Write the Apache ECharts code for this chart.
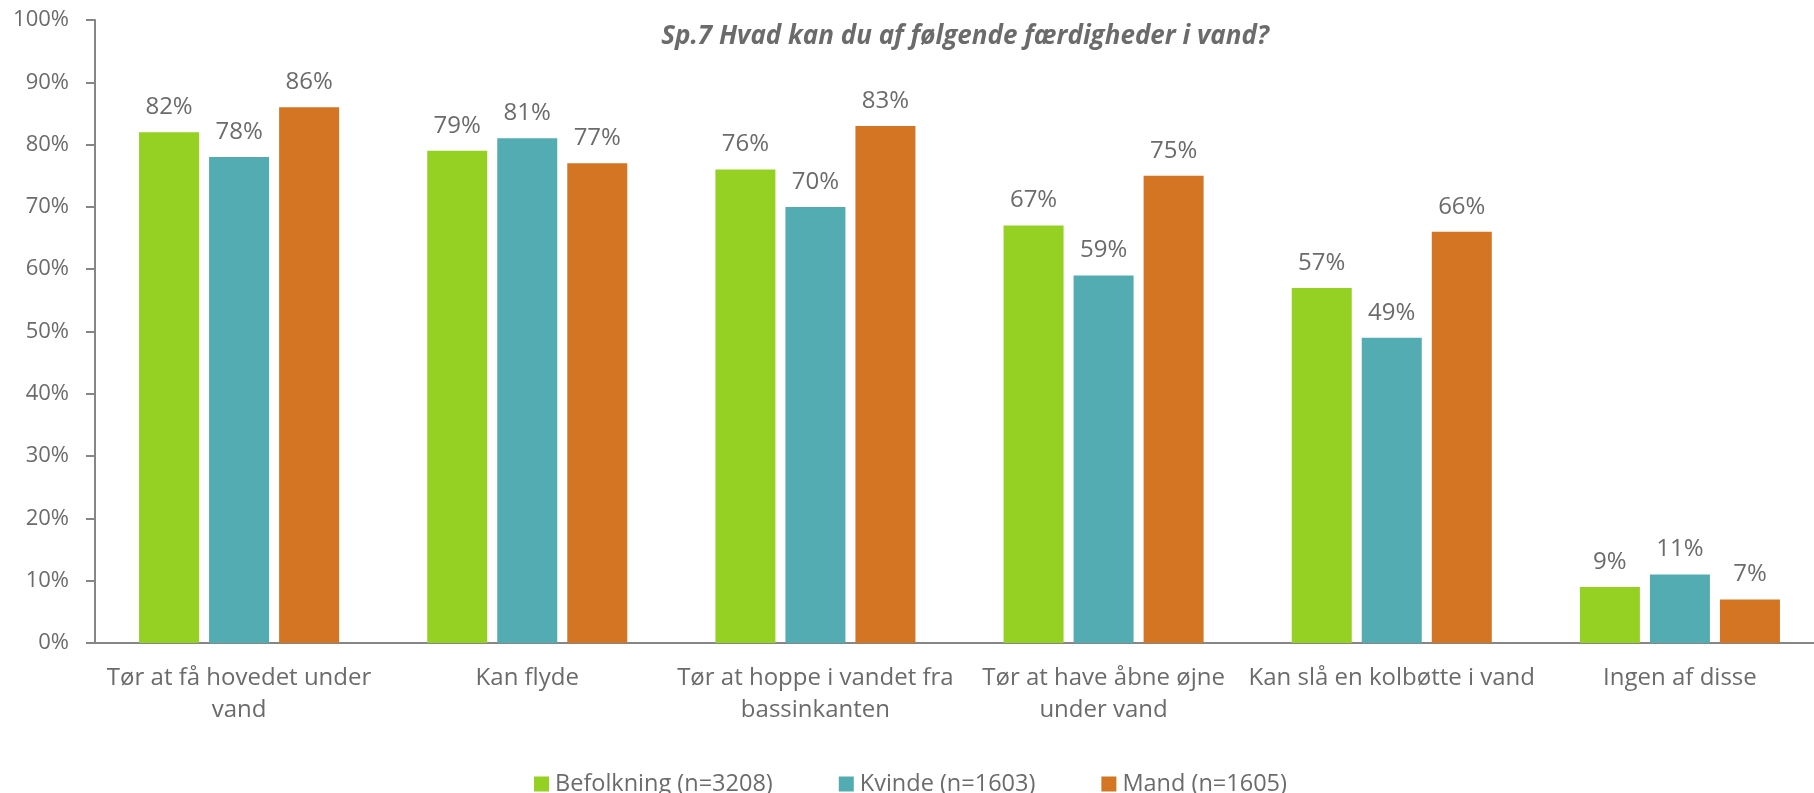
<!DOCTYPE html>
<html>
<head>
<meta charset="utf-8">
<script src="https://cdn.jsdelivr.net/npm/echarts@6/dist/echarts.min.js"></script>
<style>
  html, body { margin: 0; padding: 0; background: #fff; overflow: hidden; }
  /* plot runs slightly past the right edge, as in the original */
  #chart { width: 1830px; height: 793px; }
</style>
</head>
<body>
<div id="chart"></div>
<script>
// categories and values (percent)
const categories = [
  "Tør at få hovedet under\nvand",
  "Kan flyde",
  "Tør at hoppe i vandet fra\nbassinkanten",
  "Tør at have åbne øjne\nunder vand",
  "Kan slå en kolbøtte i vand",
  "Ingen af disse"
];
const befolkning = [82, 79, 76, 67, 57, 9];
const kvinde = [78, 81, 70, 59, 49, 11];
const mand = [86, 77, 83, 75, 66, 7];
const seriesNames = ["Befolkning (n=3208)", "Kvinde (n=1603)", "Mand (n=1605)"];
const yTicks = [0, 100, 10]; // min, max, step

const textColor = "#6b6b6b";
const font = "'Open Sans', sans-serif";
const colors = ["#94d123", "#53acb1", "#d37522"];

const chart = echarts.init(document.getElementById("chart"));

const makeSeries = (name, data, color) => ({
  name,
  type: "bar",
  data,
  barWidth: 60,
  barGap: "16.7%",
  itemStyle: { color },
  label: {
    show: true,
    position: "top",
    distance: 13,
    formatter: "{c}%",
    color: textColor,
    fontFamily: font,
    fontSize: 24,
  },
});

chart.setOption({
  animation: false,
  textStyle: { fontFamily: font },
  title: {
    text: "Sp.7 Hvad kan du af følgende færdigheder i vand?",
    left: 960,
    top: 19,
    textAlign: "center",
    textStyle: {
      color: "#6b6b6b",
      fontFamily: font,
      fontSize: 26,
      fontWeight: "bold",
      fontStyle: "italic",
    },
  },
  legend: {
    data: seriesNames,
    left: 529,
    top: 767,
    itemWidth: 15,
    itemHeight: 15,
    itemGap: 66,
    icon: "rect",
    textStyle: { color: textColor, fontFamily: font, fontSize: 23.5, padding: [0, 0, 0, 1] },
  },
  grid: { left: 95, top: 20, width: 1729, height: 623, containLabel: false },
  xAxis: {
    type: "category",
    data: categories,
    axisLine: { lineStyle: { color: "#868686", width: 2 } },
    axisTick: { show: false },
    axisLabel: {
      color: textColor,
      fontFamily: font,
      fontSize: 24,
      lineHeight: 32,
      margin: 19,
      interval: 0,
    },
  },
  yAxis: {
    type: "value",
    min: yTicks[0],
    max: yTicks[1],
    interval: yTicks[2],
    splitLine: { show: false },
    axisLine: { show: true, lineStyle: { color: "#868686", width: 2 } },
    axisTick: { show: true, length: 9, lineStyle: { color: "#868686", width: 2 } },
    axisLabel: {
      formatter: "{value}%",
      color: textColor,
      fontFamily: font,
      fontSize: 22,
      margin: 26,
    },
  },
  series: [
    makeSeries(seriesNames[0], befolkning, colors[0]),
    makeSeries(seriesNames[1], kvinde, colors[1]),
    makeSeries(seriesNames[2], mand, colors[2]),
  ],
});
</script>
</body>
</html>
